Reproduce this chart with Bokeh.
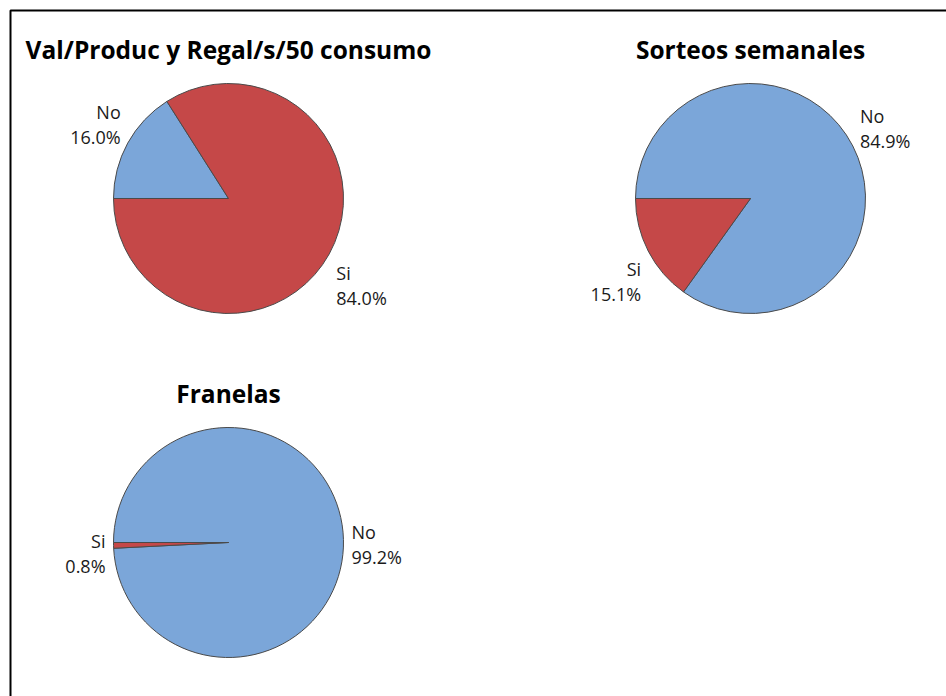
import math
from bokeh.plotting import figure
from bokeh.models import Range1d, ColumnDataSource
from bokeh.core.properties import value
from bokeh.embed import file_html
from bokeh.resources import INLINE

# ---- data ----
titles = ["Val/Produc y Regal/s/50 consumo", "Sorteos semanales", "Franelas"]
categories = ["No", "Si"]
no_pct = [16.0, 84.9, 99.2]
si_pct = [84.0, 15.1, 0.8]
cat_colors = ["#7BA6D9", "#C54848"]

# ---- layout (pixels) ----
W, H = 946, 696
centers_px = [(228, 198), (750, 198), (228, 542)]
R = 115
FONT = "Open Sans"

p = figure(width=W, height=H, x_range=Range1d(0, W), y_range=Range1d(0, H),
           output_backend="svg", toolbar_location=None, min_border=0)
p.axis.visible = False
p.grid.visible = False
p.outline_line_color = None
p.background_fill_color = "white"
p.border_fill_color = "white"

wx, wy, ws, we, wc = [], [], [], [], []
lx, ly, ltxt, lalign = [], [], [], []
tx, ty, ttxt = [], [], []

for i, (cxp, cyp) in enumerate(centers_px):
    cx, cy = cxp, H - cyp
    vals = [no_pct[i], si_pct[i]]
    start = math.pi  # 9 o'clock, going clockwise
    for j, v in enumerate(vals):
        sweep = v / 100.0 * 2 * math.pi
        end = start - sweep
        wx.append(cx); wy.append(cy); ws.append(start); we.append(end); wc.append(cat_colors[j])
        mid = (start + end) / 2
        c, s = math.cos(mid), math.sin(mid)
        ex = cx + 123 * c
        yc = cy + 167 * s
        al = "left" if c > 0 else "right"
        lx += [ex, ex]
        ly += [yc + 6, yc - 19]
        ltxt += [categories[j], f"{v:.1f}%"]
        lalign += [al, al]
        start = end
    tx.append(cx); ty.append(cy + 149); ttxt.append(titles[i])

# outer frame (only top and left edges fall inside the window)
p.multi_line(xs=[[10, 10, W + 20]], ys=[[-20, H - 10, H - 10]],
             line_color="black", line_width=2)

wsrc = ColumnDataSource(dict(x=wx, y=wy, start=ws, end=we, color=wc))
p.wedge(x="x", y="y", radius=R, start_angle="start", end_angle="end", direction="clock",
        fill_color="color", line_color="#4a4a4a", line_width=1, source=wsrc)

lsrc = ColumnDataSource(dict(x=lx, y=ly, text=ltxt, align=lalign))
p.text(x="x", y="y", text="text", text_align="align", text_baseline="alphabetic",
       text_font=value(FONT), text_font_size="18px", text_color="#1a1a1a", source=lsrc)

tsrc = ColumnDataSource(dict(x=tx, y=ty, text=ttxt))
p.text(x="x", y="y", text="text", text_align="center", text_baseline="alphabetic",
       text_font=value(FONT), text_font_size="24.5px", text_font_style="bold",
       text_color="#000000", source=tsrc)

open("out.html", "w").write(file_html(p, INLINE))
